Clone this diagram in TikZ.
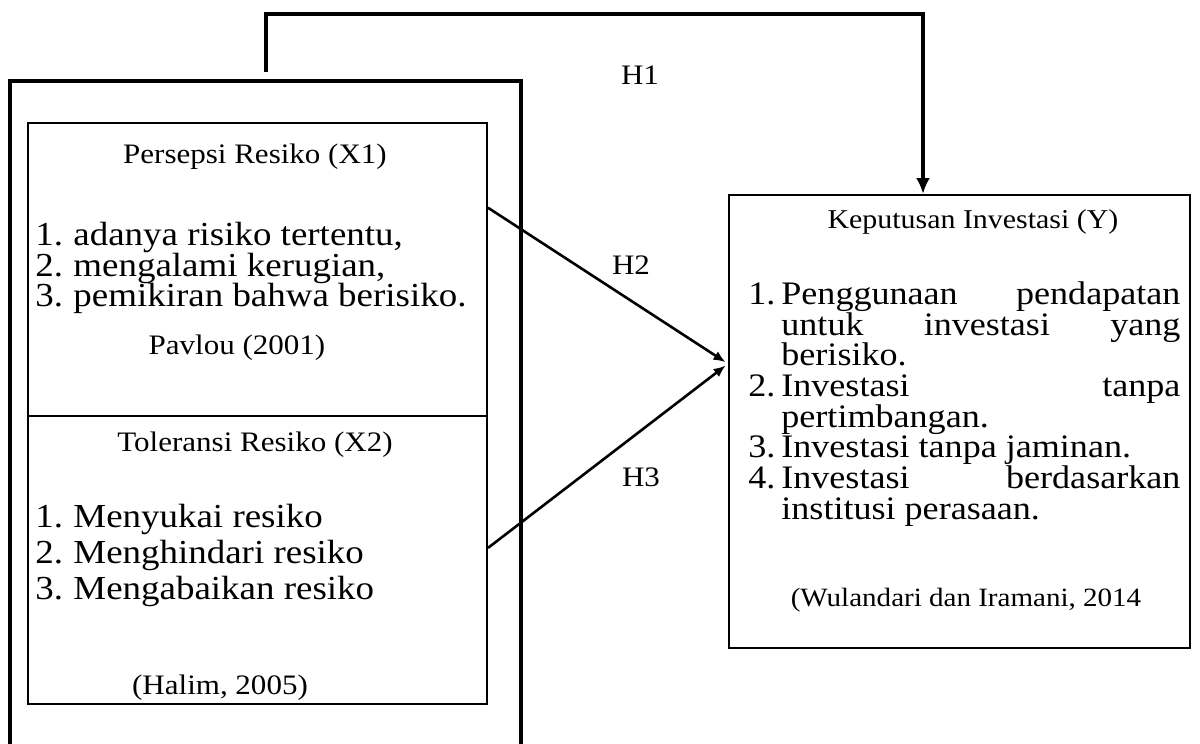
\documentclass[tikz,border=0pt]{standalone}
\usepackage{fontspec}
\setmainfont{Liberation Serif}[FakeStretch=1.1]
\usetikzlibrary{arrows.meta,fit}

\newcommand\tightlines{\lineskiplimit-20pt\relax}
\newcommand\nohyph{\hyphenpenalty10000\exhyphenpenalty10000\relax}

\begin{document}
\begin{tikzpicture}[
		x=0.5pt, y=-0.5pt,
		box/.style={draw, line width=1pt, inner sep=0pt},
		head/.style={font=\fontsize{14.1}{16}\selectfont},
		cite/.style={font=\fontsize{13.2}{15}\selectfont},
		list/.style={align=left, inner sep=0pt},
		link/.style={line width=1.3pt, -{Latex[length=6pt,width=5pt]}, shorten >=1.5pt},
	]
		\useasboundingbox (0,0) rectangle (1200,744);
		\clip (0,0) rectangle (1200,744);

		% outer frame, open at the bottom
		\draw[line width=2pt] (10,760) |- (521,81) -- (521,760);

		\node (x1box) [box, fit={(28,123) (487,416)}] {};
		\node (x2box) [box, fit={(28,416) (487,704)}] {};
		\node (ybox) [box, fit={(729,195) (1190,648)}] {};

		\node (x1title) [head] at (255,157) {Persepsi Resiko (X1)};
		\node (x1list) [list, anchor=west, font=\fontsize{16.8}{15.3}\selectfont\tightlines] at (35,268)
			{\makebox[19pt][l]{1.}adanya risiko tertentu,\\
			 \makebox[19pt][l]{2.}mengalami kerugian,\\
			 \makebox[19pt][l]{3.}pemikiran bahwa berisiko.};
		\node (x1src) [head] at (237,348) {Pavlou (2001)};

		\node (x2title) [head] at (255,445) {Toleransi Resiko (X2)};
		\node (x2list) [list, anchor=west, font=\fontsize{16.8}{18}\selectfont\tightlines] at (35,555)
			{\makebox[19pt][l]{1.}Menyukai resiko\\
			 \makebox[19pt][l]{2.}Menghindari resiko\\
			 \makebox[19pt][l]{3.}Mengabaikan resiko};
		\node (x2src) [head] at (220,688) {(Halim, 2005)};

		\node (ytitle) [head, font=\fontsize{13.6}{15}\selectfont] at (973,222) {Keputusan Investasi (Y)};
		\node (ylist) [list, align=justify, text width=216pt, anchor=west,
			font=\fontsize{16.4}{15.35}\selectfont\tightlines\nohyph] at (748,404)
			{\hangindent16.5pt\hangafter1\makebox[16.5pt][l]{1.}Penggunaan pendapatan untuk investasi yang berisiko.\par
			 \hangindent16.5pt\hangafter1\makebox[16.5pt][l]{2.}Investasi tanpa pertimbangan.\par
			 \hangindent16.5pt\hangafter1\makebox[16.5pt][l]{3.}Investasi tanpa jaminan.\par
			 \hangindent16.5pt\hangafter1\makebox[16.5pt][l]{4.}Investasi berdasarkan institusi perasaan.\par};
		\node (ysrc) [cite] at (966,600) {(Wulandari dan Iramani, 2014};

		\coordinate (h1start) at (266,72);
		\coordinate (h1turn) at (923,14);
		\draw[link, line width=1.8pt, -{Latex[length=8pt,width=7pt]}, shorten >=0pt]
			(h1start) |- (h1turn) -- (h1turn |- ybox.north);
		\draw[link] (x1box.15) -- (ybox.166.7);
		\draw[link] (x2box.3.5) -- (ybox.166.7);

		\node (h1) [head] at (640,75) {H1};
		\node (h2) [head] at (631,265) {H2};
		\node (h3) [head] at (641,477) {H3};
	\end{tikzpicture}
\end{document}
